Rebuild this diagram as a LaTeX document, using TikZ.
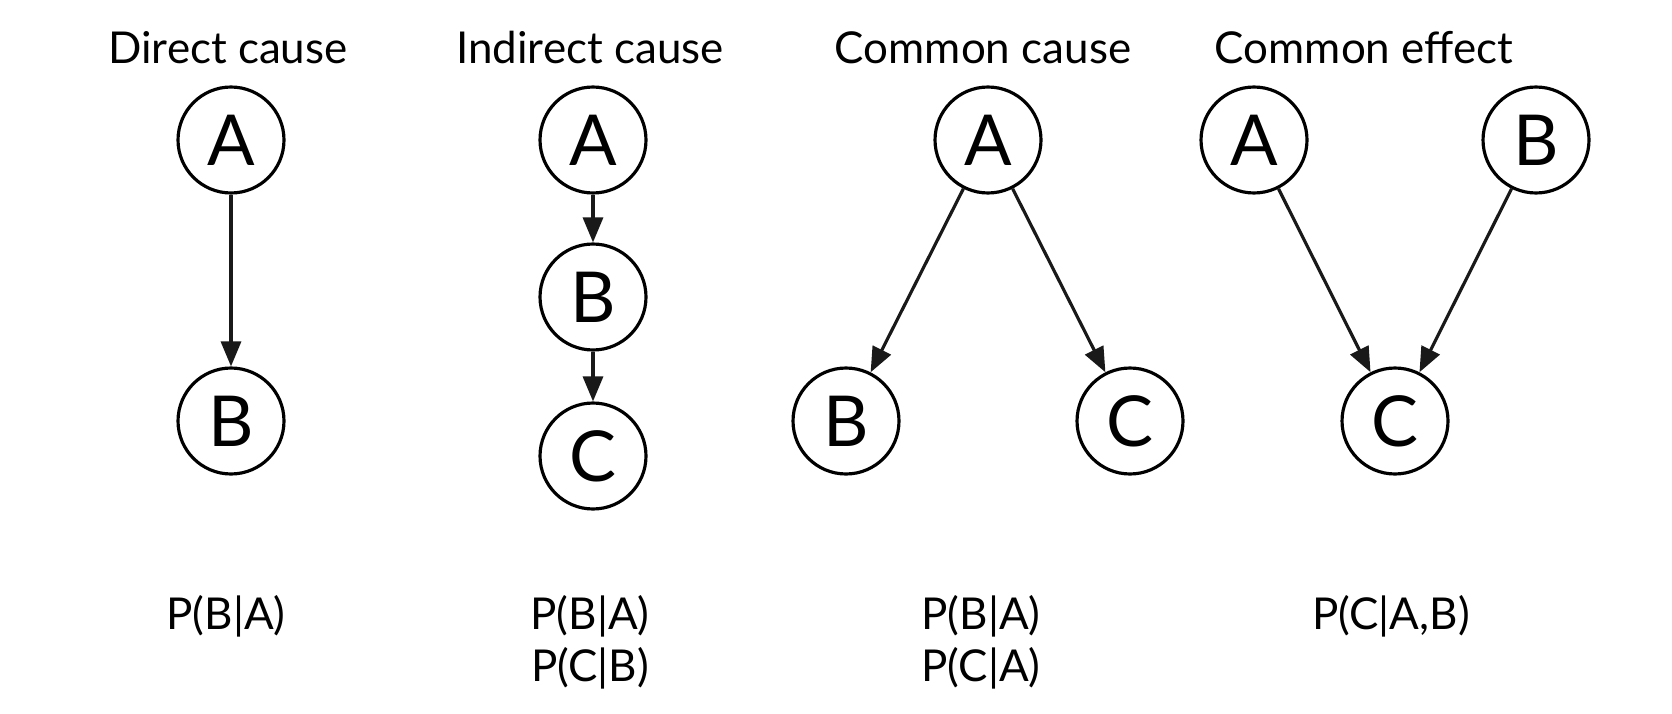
\documentclass[tikz,border=0pt]{standalone}
\usepackage{fontspec}
\setmainfont{Lato}
\usepackage{tikz}
\usetikzlibrary{arrows.meta, positioning}
\tikzset{
  %% Random variable (circle)
  var/.style={
    circle, draw=black, line width=1.8pt,
    minimum size=2.12cm, inner sep=0pt,
    font=\fontsize{40}{40}\selectfont
  },
  %% Column title
  ttl/.style={font=\fontsize{25}{30}\selectfont},
  %% Factor text below a graph
  fac/.style={font=\fontsize{25}{29.6}\selectfont, align=center},
  %% Arrow
  arr/.style={-{Triangle[length=0.5cm,width=0.4cm]},
              draw=black!90, line width=1.8pt},
}

\begin{document}
\begin{tikzpicture}[x=0.02cm, y=-0.02cm]

  \useasboundingbox (0,0) rectangle (1672,713);

  %% Titles
  \node[ttl] (t1) at (228,48)  {Direct cause};
  \node[ttl] (t2) at (590,48)  {Indirect cause};
  \node[ttl] (t3) at (983,48)  {Common cause};
  \node[ttl] (t4) at (1364,48) {Common effect};

  %% Direct cause
  \node[var] (da) at (231,140) {A};
  \node[var] (db) at (231,421) {B};

  %% Indirect cause
  \node[var] (ia) at (593,140) {A};
  \node[var] (ib) at (593,297) {B};
  \node[var] (ic) at (593,456) {C};

  %% Common cause
  \node[var] (ca) at (988,140)  {A};
  \node[var] (cb) at (846,421)  {B};
  \node[var] (cc) at (1130,421) {C};

  %% Common effect
  \node[var] (ea) at (1254,140) {A};
  \node[var] (eb) at (1536,140) {B};
  \node[var] (ec) at (1395,421) {C};

  %% Factorisations
  \node[fac] (f1) at (226,616)  {P(B|A)};
  \node[fac] (f2) at (590,642)  {P(B|A)\\P(C|B)};
  \node[fac] (f3) at (981,642)  {P(B|A)\\P(C|A)};
  \node[fac] (f4) at (1391,616) {P(C|A,B)};

  %% Edges
  \foreach \a/\b in {da/db, ia/ib, ib/ic, ca/cb, ca/cc, ea/ec, eb/ec}
    \draw[arr] (\a) -- (\b);

\end{tikzpicture}
\end{document}
